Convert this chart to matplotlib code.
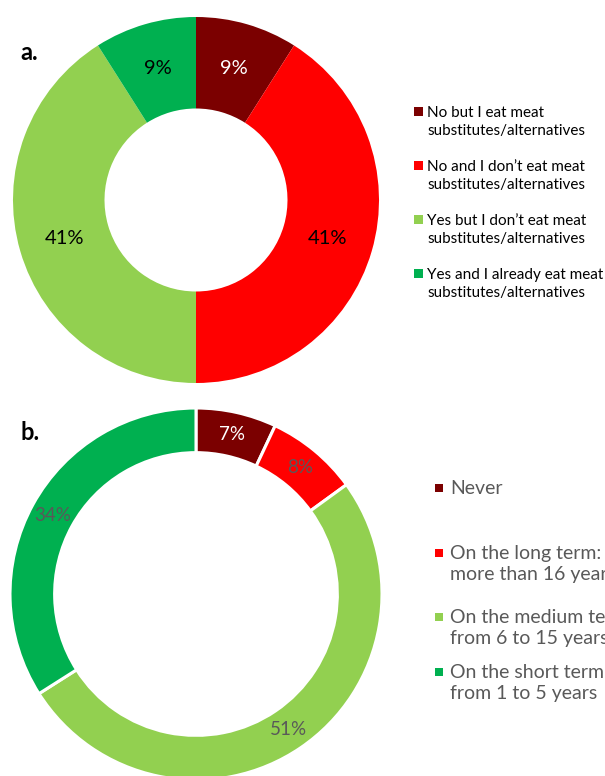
import matplotlib.pyplot as plt
from matplotlib.patches import Rectangle

plt.rcParams['font.family'] = ['Lato', 'DejaVu Sans']

# Daten
labels_a = ["No but I eat meat\nsubstitutes/alternatives",
            "No and I don\u2019t eat meat\nsubstitutes/alternatives",
            "Yes but I don\u2019t eat meat\nsubstitutes/alternatives",
            "Yes and I already eat meat\nsubstitutes/alternatives"]
werte_a = [9, 41, 41, 9]

labels_b = ["Never",
            "On the long term:\nmore than 16 years",
            "On the medium term:\nfrom 6 to 15 years",
            "On the short term:\nfrom 1 to 5 years"]
werte_b = [7, 8, 51, 34]

farben = ["#7B0000", "#FF0000", "#92D050", "#00B050"]

W, H = 605, 776
fig = plt.figure(figsize=(W / 100, H / 100), dpi=100)


def pie_axes(cx, cy, r):
    # Achse in Pixelkoordinaten um den Mittelpunkt legen
    ax = fig.add_axes([(cx - r) / W, (H - cy - r) / H, 2 * r / W, 2 * r / H])
    ax.set_xlim(-1, 1)
    ax.set_ylim(-1, 1)
    ax.axis('off')
    return ax


# --- Diagramm a ---
ax_a = pie_axes(196, 200, 183)
wedges, _, autotexts = ax_a.pie(werte_a, colors=farben, startangle=90, counterclock=False,
                                radius=1, autopct='%d%%', pctdistance=0.75,
                                wedgeprops=dict(width=0.5, linewidth=0),
                                textprops=dict(fontsize=14.5, color='black'))
autotexts[0].set_color('white')
ax_a.set_xlim(-1, 1)
ax_a.set_ylim(-1, 1)

# --- Diagramm b ---
ax_b = pie_axes(196, 594, 186)
wedges, _, autotexts = ax_b.pie(werte_b, colors=farben, startangle=90, counterclock=False,
                                radius=1, autopct='%d%%', pctdistance=0.88,
                                wedgeprops=dict(width=0.24, linewidth=2.2, edgecolor='white'),
                                textprops=dict(fontsize=13.5, color='#595959'))
autotexts[0].set_color('white')
ax_b.set_xlim(-1, 1)
ax_b.set_ylim(-1, 1)

# Buchstaben
fig.text(20 / W, 1 - 52 / H, "a.", fontsize=17, fontweight='bold', va='center')
fig.text(20 / W, 1 - 432 / H, "b.", fontsize=17, fontweight='bold', va='center')

# Legende a
y_a = [122, 176, 230, 284]
for lab, farbe, y in zip(labels_a, farben, y_a):
    fig.patches.append(Rectangle((414 / W, 1 - (y - 6) / H), 9 / W, 9 / H,
                                 transform=fig.transFigure, facecolor=farbe, edgecolor='none'))
    fig.text(427 / W, 1 - y / H, lab, fontsize=11, color='black', va='center',
             linespacing=1.3)

# Legende b
y_b = [488, 564, 628, 683]
for lab, farbe, y in zip(labels_b, farben, y_b):
    ym = y if '\n' not in lab else y - 11
    fig.patches.append(Rectangle((435 / W, 1 - (ym + 4) / H), 8 / W, 8 / H,
                                 transform=fig.transFigure, facecolor=farbe, edgecolor='none'))
    fig.text(450 / W, 1 - y / H, lab, fontsize=14, color='#595959', va='center',
             linespacing=1.25)

plt.savefig("out.png", dpi=100)
plt.close()
